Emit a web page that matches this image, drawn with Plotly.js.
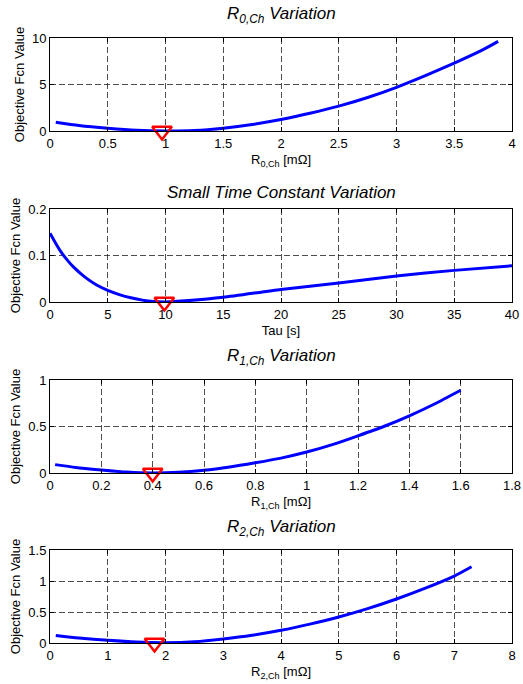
<!DOCTYPE html>
<html>
<head>
<meta charset="utf-8">
<script src="https://cdn.plot.ly/plotly-3.0.1.min.js"></script>
<style>html,body{margin:0;padding:0;background:#fff;}</style>
</head>
<body>
<div id="chart" style="width:523px;height:684px;"></div>
<script>
// Data
const r0X = [0.05, 0.25, 0.5, 0.75, 1.0, 1.25, 1.5, 1.75, 2.0, 2.25, 2.5, 2.75, 3.0, 3.25, 3.5, 3.75, 3.88];
const r0Y = [0.95, 0.6, 0.3, 0.08, 0.0, 0.05, 0.3, 0.7, 1.23, 1.9, 2.67, 3.6, 4.7, 5.95, 7.3, 8.75, 9.64];
const r0Min = [0.97, 0];

const tauX = [0, 0.5, 1, 1.5, 2, 3, 4, 5, 6, 7, 8, 9, 10, 12, 15, 20, 25, 30, 35, 40];
const tauY = [0.148, 0.126, 0.106, 0.09, 0.076, 0.054, 0.037, 0.025, 0.016, 0.009, 0.004, 0.001, 0.0, 0.003, 0.01, 0.027, 0.041, 0.056, 0.068, 0.078];
const tauMin = [9.9, 0];

const r1X = [0.02, 0.1, 0.2, 0.3, 0.4, 0.5, 0.6, 0.7, 0.8, 0.9, 1.0, 1.1, 1.2, 1.3, 1.4, 1.5, 1.6];
const r1Y = [0.09, 0.06, 0.033, 0.01, 0.0, 0.008, 0.03, 0.065, 0.11, 0.16, 0.225, 0.305, 0.40, 0.5, 0.615, 0.745, 0.89];
const r1Min = [0.4, 0];

const r2X = [0.1, 0.5, 1, 1.5, 2, 2.5, 3, 3.5, 4, 4.5, 5, 5.5, 6, 6.5, 7, 7.3];
const r2Y = [0.12, 0.08, 0.043, 0.015, 0.005, 0.02, 0.065, 0.125, 0.205, 0.305, 0.42, 0.555, 0.71, 0.885, 1.08, 1.23];
const r2Min = [1.81, 0];

const titles = ['R<sub>0,Ch</sub> Variation', 'Small Time Constant Variation', 'R<sub>1,Ch</sub> Variation', 'R<sub>2,Ch</sub> Variation'];
const xTitles = ['R<sub>0,Ch</sub> [mΩ]', 'Tau [s]', 'R<sub>1,Ch</sub> [mΩ]', 'R<sub>2,Ch</sub> [mΩ]'];
const yTitle = 'Objective Fcn Value';
const xRanges = [[0, 4], [0, 40], [0, 1.8], [0, 8]];
const yRanges = [[0, 10], [0, 0.2], [0, 1], [0, 1.5]];
const xDtick = [0.5, 5, 0.2, 1];
const yDtick = [5, 0.1, 0.5, 0.5];

const series = [[r0X, r0Y, r0Min], [tauX, tauY, tauMin], [r1X, r1Y, r1Min], [r2X, r2Y, r2Min]];

const H = 684;
const plotPx = [[38, 131], [209, 302], [380, 473], [550, 643]];
const titlePx = [15, 192, 357, 528];

const fontFam = 'Liberation Sans, Arial, sans-serif';
const traces = [];
const layout = {
  width: 523, height: 684,
  margin: {l: 50, r: 11, t: 0, b: 0},
  paper_bgcolor: '#fff', plot_bgcolor: '#fff',
  showlegend: false,
  font: {family: fontFam, size: 13, color: '#000'},
  annotations: []
};

series.forEach((s, i) => {
  const n = i === 0 ? '' : String(i + 1);
  traces.push({
    x: s[0], y: s[1], type: 'scatter', mode: 'lines',
    line: {color: '#0000ff', width: 3, shape: 'spline', smoothing: 0.6},
    xaxis: 'x' + n, yaxis: 'y' + n, hoverinfo: 'skip'
  });
  traces.push({
    x: [s[2][0]], y: [s[2][1]], type: 'scatter', mode: 'markers',
    marker: {symbol: 'triangle-down-open', size: 17, color: '#ff0000', line: {color: '#ff0000', width: 2.5}},
    xaxis: 'x' + n, yaxis: 'y' + n, cliponaxis: false, hoverinfo: 'skip'
  });
  const common = {
    showline: true, linecolor: '#000', linewidth: 1, mirror: 'ticks',
    ticks: 'inside', ticklen: 4, tickcolor: '#000',
    showgrid: true, gridcolor: '#222', gridwidth: 0.8, griddash: '6px,3px',
    zeroline: false, fixedrange: true,
    tickfont: {family: fontFam, size: 13, color: '#000'}
  };
  layout['xaxis' + n] = Object.assign({}, common, {
    range: xRanges[i], dtick: xDtick[i], tick0: 0,
    anchor: 'y' + n, domain: [0, 1],
    title: {text: xTitles[i], font: {family: fontFam, size: 13, color: '#000'}, standoff: 5}
  });
  layout['yaxis' + n] = Object.assign({}, common, {
    range: yRanges[i], dtick: yDtick[i], tick0: 0,
    anchor: 'x' + n,
    domain: [1 - plotPx[i][1] / H, 1 - plotPx[i][0] / H],
    title: {text: yTitle, font: {family: fontFam, size: 13, color: '#000'}, standoff: 4}
  });
  layout.annotations.push({
    text: '<i>' + titles[i] + '</i>',
    xref: 'paper', yref: 'paper', x: 0.5, y: 1 - titlePx[i] / H,
    xanchor: 'center', yanchor: 'middle', showarrow: false,
    font: {family: fontFam, size: 17, color: '#000'}
  });
});

Plotly.newPlot('chart', traces, layout, {staticPlot: true, displayModeBar: false});
</script>
</body>
</html>
